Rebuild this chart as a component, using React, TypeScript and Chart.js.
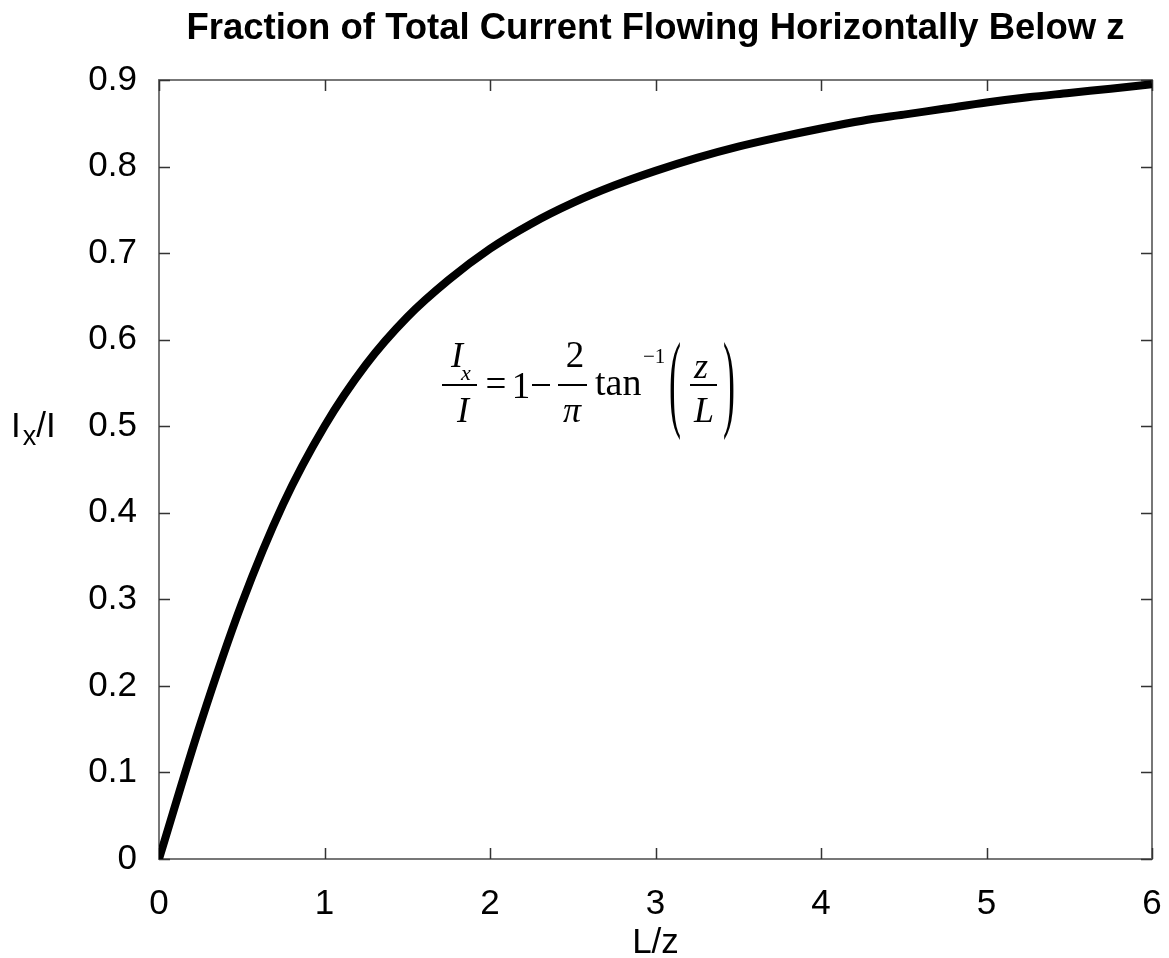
import React, { useEffect, useRef } from "react";
import { Chart, registerables } from "chart.js";

Chart.register(...registerables);

// L/z sample positions and the fraction of current Ix/I at each one
const ratioLz: number[] = [
  0, 0.25, 0.5, 0.75, 1, 1.25, 1.5, 1.75, 2, 2.25, 2.5, 2.75, 3, 3.25, 3.5,
  3.75, 4, 4.25, 4.5, 4.75, 5, 5.25, 5.5, 5.75, 6,
];
const currentFraction: number[] = [
  0, 0.156, 0.295, 0.41, 0.5, 0.571, 0.626, 0.669, 0.705, 0.734, 0.758, 0.778,
  0.795, 0.81, 0.823, 0.834, 0.844, 0.853, 0.86, 0.867, 0.874, 0.88, 0.885,
  0.89, 0.895,
];
const xTicks: number[] = [0, 1, 2, 3, 4, 5, 6];
const yTicks: number[] = [0, 0.1, 0.2, 0.3, 0.4, 0.5, 0.6, 0.7, 0.8, 0.9];

const titleText = "Fraction of Total Current Flowing Horizontally Below z";
const xLabel = "L/z";

const SANS = "'Liberation Sans', Arial, sans-serif";
const SERIF = "'Liberation Serif', 'Times New Roman', serif";

// Frame with inward ticks on all four sides
const framePlugin = {
  id: "frame",
  beforeDatasetsDraw(chart: any) {
    const { ctx, chartArea: a, scales } = chart;
    ctx.save();
    ctx.strokeStyle = "#777777";
    ctx.lineWidth = 2;
    ctx.strokeRect(a.left, a.top, a.right - a.left, a.bottom - a.top);
    ctx.strokeStyle = "#333333";
    ctx.lineWidth = 1.5;
    const len = 11;
    ctx.beginPath();
    for (const v of xTicks) {
      const px = Math.round(scales.x.getPixelForValue(v)) + 0.5;
      ctx.moveTo(px, a.bottom);
      ctx.lineTo(px, a.bottom - len);
      ctx.moveTo(px, a.top);
      ctx.lineTo(px, a.top + len);
    }
    for (const v of yTicks) {
      const py = Math.round(scales.y.getPixelForValue(v)) + 0.5;
      ctx.moveTo(a.left, py);
      ctx.lineTo(a.left + len, py);
      ctx.moveTo(a.right, py);
      ctx.lineTo(a.right - len, py);
    }
    ctx.stroke();
    ctx.restore();
  },
};

// Title, axis captions and the formula annotation
const textPlugin = {
  id: "texts",
  afterDraw(chart: any) {
    const { ctx, chartArea: a } = chart;
    const cx = (a.left + a.right) / 2;
    ctx.save();
    ctx.fillStyle = "#000000";

    // title
    ctx.font = `bold 36.5px ${SANS}`;
    ctx.textAlign = "center";
    ctx.textBaseline = "alphabetic";
    ctx.fillText(titleText, cx, 39);

    // x caption
    ctx.font = `35px ${SANS}`;
    ctx.fillText(xLabel, cx, 953);

    // y caption: I with subscript x, then /I
    ctx.textAlign = "left";
    ctx.font = `35px ${SANS}`;
    ctx.fillText("I", 11, 437);
    const w = ctx.measureText("I").width;
    ctx.font = `27px ${SANS}`;
    ctx.fillText("x", 11 + w + 2, 445);
    const wx = ctx.measureText("x").width;
    ctx.font = `35px ${SANS}`;
    ctx.fillText("/I", 11 + w + 2 + wx, 437);

    // formula
    const bar = 385;
    const drawBar = (x0: number, x1: number) => {
      ctx.fillRect(x0, bar - 1, x1 - x0, 2);
    };
    ctx.textAlign = "center";
    // Ix / I
    ctx.font = `italic 36px ${SERIF}`;
    ctx.fillText("I", 457, 367);
    ctx.font = `italic 22px ${SERIF}`;
    ctx.fillText("x", 466, 380);
    ctx.font = `italic 36px ${SERIF}`;
    ctx.fillText("I", 463, 422);
    drawBar(442, 477);
    // = 1 −
    ctx.font = `37px ${SERIF}`;
    ctx.fillText("=", 496, 396);
    ctx.fillText("1", 521, 398);
    ctx.fillRect(532, bar - 1, 18, 2);
    // 2 / π
    ctx.fillText("2", 575, 367);
    ctx.font = `italic 36px ${SERIF}`;
    ctx.fillText("π", 572, 422);
    drawBar(558, 587);
    // tan^-1
    ctx.textAlign = "left";
    ctx.font = `38px ${SERIF}`;
    ctx.fillText("tan", 595, 395);
    ctx.font = `21px ${SERIF}`;
    ctx.fillText("−1", 643, 363);
    // tall parentheses
    ctx.font = `36px ${SERIF}`;
    ctx.textAlign = "center";
    const paren = (ch: string, x: number) => {
      ctx.save();
      ctx.translate(x, 389);
      ctx.scale(1, 3.0);
      ctx.textBaseline = "middle";
      ctx.fillText(ch, 0, 0);
      ctx.restore();
    };
    paren("(", 675);
    paren(")", 729);
    // z / L
    ctx.font = `italic 36px ${SERIF}`;
    ctx.fillText("z", 701, 378);
    ctx.fillText("L", 704, 422);
    drawBar(690, 717);

    ctx.restore();
  },
};

export default function App() {
  const canvasRef = useRef<HTMLCanvasElement | null>(null);

  useEffect(() => {
    if (!canvasRef.current) return;
    const chart = new Chart(canvasRef.current, {
      type: "line",
      data: {
        datasets: [
          {
            data: ratioLz.map((x, i) => ({ x, y: currentFraction[i] })),
            borderColor: "#000000",
            borderWidth: 8,
            pointRadius: 0,
            cubicInterpolationMode: "monotone",
            fill: false,
          },
        ],
      },
      options: {
        animation: false,
        responsive: true,
        maintainAspectRatio: false,
        layout: { padding: { top: 80, right: 17, left: 0, bottom: 0 } },
        plugins: {
          legend: { display: false },
          tooltip: { enabled: false },
          title: { display: false },
        },
        scales: {
          x: {
            type: "linear",
            min: 0,
            max: 6,
            afterFit: (s: any) => {
              s.height = 99;
              s.paddingLeft = 0;
              s.paddingRight = 0;
            },
            afterBuildTicks: (s: any) => {
              s.ticks = xTicks.map((v) => ({ value: v }));
            },
            grid: { display: false, drawTicks: false },
            border: { display: false },
            ticks: {
              color: "#000000",
              font: { family: SANS, size: 35 },
              padding: 24,
              maxRotation: 0,
              callback: (v: any) => String(v),
            },
          },
          y: {
            type: "linear",
            min: 0,
            max: 0.9,
            afterFit: (s: any) => {
              s.width = 159;
            },
            afterBuildTicks: (s: any) => {
              s.ticks = yTicks.map((v) => ({ value: v }));
            },
            grid: { display: false, drawTicks: false },
            border: { display: false },
            ticks: {
              color: "#000000",
              font: { family: SANS, size: 35 },
              padding: 22,
              callback: (v: any) => (v === 0 ? "0" : Number(v).toFixed(1)),
            },
          },
        },
      },
      plugins: [framePlugin, textPlugin],
    });
    return () => chart.destroy();
  }, []);

  return (
    <div
      style={{
        position: "fixed",
        left: 0,
        top: 0,
        width: 1169,
        height: 958,
        background: "#ffffff",
      }}
    >
      <canvas ref={canvasRef} />
    </div>
  );
}
